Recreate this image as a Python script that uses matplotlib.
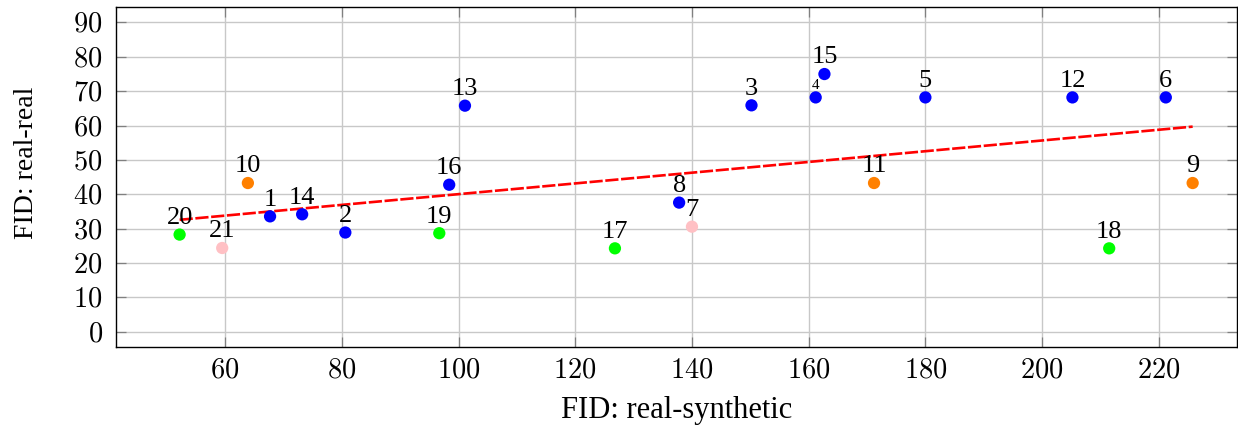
import matplotlib
matplotlib.use("Agg")
import matplotlib.pyplot as plt

plt.rcParams['font.family'] = ['Liberation Serif', 'DejaVu Serif']
plt.rcParams['mathtext.fontset'] = 'cm'

# Data
labels = ["1", "2", "3", "4", "5", "6", "7", "8", "9", "10", "11",
          "12", "13", "14", "15", "16", "17", "18", "19", "20", "21"]
fid_real_synth = [67.7, 80.6, 150.2, 161.2, 180.0, 221.2, 140.0, 137.8, 225.8, 63.9, 171.2,
                  205.2, 101.1, 73.2, 162.7, 98.4, 126.8, 211.5, 96.7, 52.2, 59.5]
fid_real_real = [33.6, 28.9, 65.9, 68.2, 68.2, 68.2, 30.6, 37.6, 43.3, 43.3, 43.3,
                 68.2, 65.8, 34.2, 75.0, 42.8, 24.3, 24.3, 28.7, 28.3, 24.4]
groups = ["blue", "blue", "blue", "blue", "blue", "blue", "pink", "blue", "orange", "orange", "orange",
          "blue", "blue", "blue", "blue", "blue", "green", "green", "green", "green", "pink"]
label_small = ["4"]

fit_x = [52.2, 225.8]
fit_y = [32.6, 59.7]

xticks = [60, 80, 100, 120, 140, 160, 180, 200, 220]
yticks = [0, 10, 20, 30, 40, 50, 60, 70, 80, 90]

color_map = {"blue": "#0000FF", "orange": "#FF8000", "green": "#00FF00", "pink": "#FFC0C4"}

fig = plt.figure(figsize=(12.38, 4.25), dpi=100)
ax = fig.add_axes([116/1238, 1 - 347/425, 1121/1238, 340/425])

ax.set_xlim(41.3, 233.4)
ax.set_ylim(-4.4, 94.5)
ax.set_xticks(xticks)
ax.set_xticklabels([f"${t}$" for t in xticks])
ax.set_yticks(yticks)
ax.set_yticklabels([f"${t}$" for t in yticks])
ax.grid(True, color="#c8c8c8", linewidth=1.0)
ax.set_axisbelow(True)

ax.plot(fit_x, fit_y, color="#FF0000", linewidth=1.9, linestyle=(0, (5, 1.0)), zorder=2)

ax.scatter(fid_real_synth, fid_real_real, s=78,
           c=[color_map[g] for g in groups], edgecolors="none", zorder=3)

for lab, xv, yv in zip(labels, fid_real_synth, fid_real_real):
    fs = 11 if lab in label_small else 19
    ax.annotate(lab, (xv, yv), xytext=(0, 4), textcoords="offset points",
                ha="center", va="bottom", fontsize=fs, zorder=4)

ax.tick_params(axis="both", direction="in", length=7, width=0.9, color="#808080",
               top=True, right=True, labelsize=20.5)
ax.tick_params(axis="y", pad=9.5)
ax.tick_params(axis="x", pad=8)
for sp in ax.spines.values():
    sp.set_linewidth(1.0)
    sp.set_color("black")

ax.set_xlabel("FID: real-synthetic", fontsize=22)
ax.set_ylabel("FID: real-real", fontsize=20)
ax.xaxis.set_label_coords(0.5, -0.144)
ax.yaxis.set_label_coords(-0.0687, 0.5426)

fig.savefig("out.png", dpi=100)
